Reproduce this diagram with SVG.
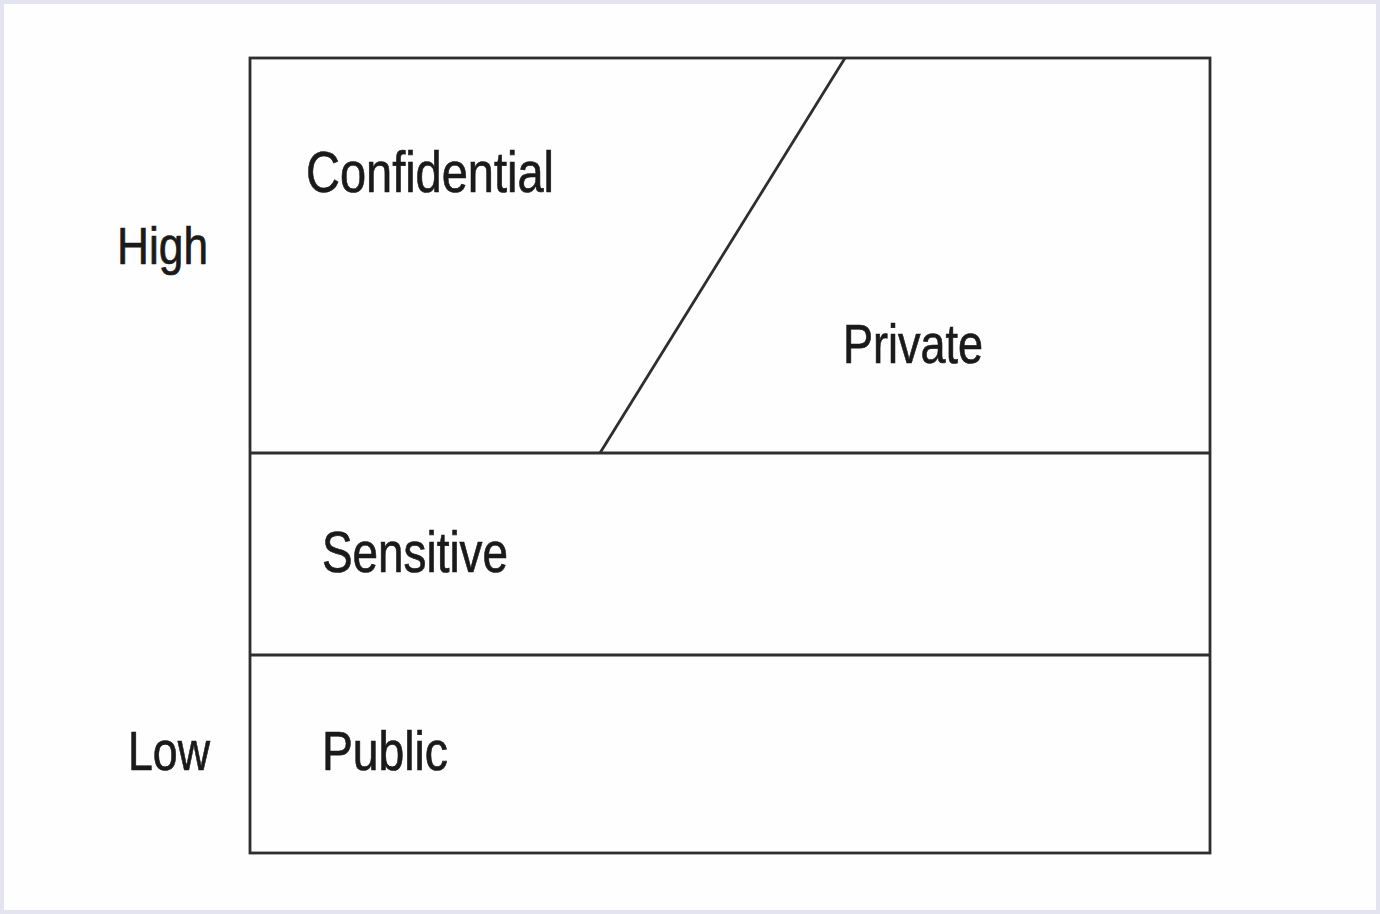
<svg xmlns="http://www.w3.org/2000/svg" width="1380" height="914" viewBox="0 0 1380 914">
<style>
.ln{stroke:#2e2e2e;stroke-width:2.8;fill:none}
.t{font-family:"Liberation Sans",Arial,sans-serif;fill:#1a1a1a;stroke:#1a1a1a;stroke-width:0.7}
</style>
<rect x="0" y="0" width="1380" height="914" fill="#e4e3f0"/>
<rect x="4" y="4" width="1372" height="906" fill="#fefefe"/>
<g id="frame">
<rect class="ln" x="250" y="58" width="960" height="795"/>
</g>
<g id="connectors">
<line class="ln" x1="250" y1="453" x2="1210" y2="453"/>
<line class="ln" x1="250" y1="655" x2="1210" y2="655"/>
<line class="ln" x1="845" y1="58" x2="600" y2="453"/>
</g>
<g id="confidential"><text class="t" x="306" y="192" font-size="58" textLength="248" lengthAdjust="spacingAndGlyphs">Confidential</text></g>
<g id="private"><text class="t" x="843" y="363" font-size="56" textLength="140" lengthAdjust="spacingAndGlyphs">Private</text></g>
<g id="sensitive"><text class="t" x="322" y="572" font-size="57" textLength="186" lengthAdjust="spacingAndGlyphs">Sensitive</text></g>
<g id="public"><text class="t" x="322" y="770" font-size="56" textLength="126" lengthAdjust="spacingAndGlyphs">Public</text></g>
<g id="high"><text class="t" x="117" y="264" font-size="51" textLength="91" lengthAdjust="spacingAndGlyphs">High</text></g>
<g id="low"><text class="t" x="128" y="770" font-size="56" textLength="82" lengthAdjust="spacingAndGlyphs">Low</text></g>
</svg>
